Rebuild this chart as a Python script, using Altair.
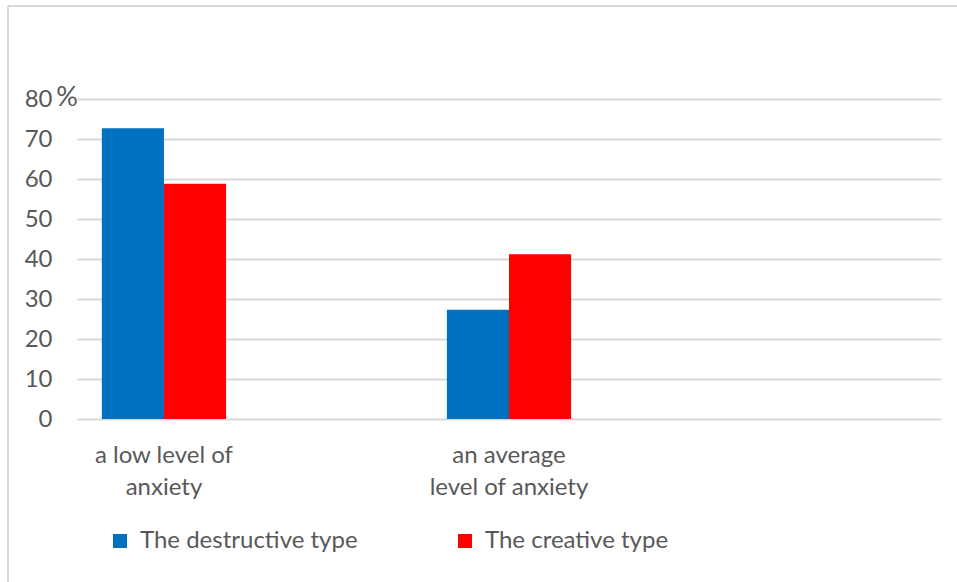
import altair as alt
import pandas as pd

categories = ["a low level of|anxiety", "an average|level of anxiety"]
slots = categories + [" "]
series = ["The destructive type", "The creative type"]
destructive = [72.7, 27.3]
creative = [58.8, 41.2]
colors = ["#0070C0", "#FF0000"]
y_ticks = [0, 10, 20, 30, 40, 50, 60, 70, 80]

rows = []
for i, c in enumerate(categories):
    rows.append({"category": c, "series": series[0], "value": destructive[i]})
    rows.append({"category": c, "series": series[1], "value": creative[i]})
df = pd.DataFrame(rows)

FONT = "Lato"
TXT = "#595959"
GRID = "#d9d9d9"
FS = 24

yscale = alt.Scale(domain=[0, 80], nice=False)
yaxis = alt.Axis(title=None, values=y_ticks, ticks=False, domain=False,
                 grid=True, gridColor=GRID, gridWidth=2, labelOverlap=False,
                 labelFont=FONT, labelFontSize=FS, labelColor=TXT, labelPadding=25)

bars = alt.Chart(df).mark_bar().encode(
    x=alt.X("category:N", sort=slots,
            scale=alt.Scale(domain=slots, paddingInner=0.64, paddingOuter=0.072),
            axis=alt.Axis(title=None, ticks=False, domain=False, grid=False,
                          labelExpr="split(datum.label, '|')", labelAngle=0,
                          labelFont=FONT, labelFontSize=FS, labelColor=TXT,
                          labelPadding=24, labelLineHeight=32, labelBaseline="top",
                          labelLimit=400)),
    xOffset=alt.XOffset("series:N", sort=series, scale=alt.Scale(domain=series, paddingInner=0, paddingOuter=0)),
    y=alt.Y("value:Q", scale=yscale, axis=yaxis),
    color=alt.Color("series:N", sort=series,
                    scale=alt.Scale(domain=series, range=colors),
                    legend=alt.Legend(title=None, orient="none", direction="horizontal",
                                      legendX=31, legendY=430, symbolType="square",
                                      symbolSize=196, symbolStrokeWidth=0,
                                      labelFont=FONT, labelFontSize=FS, labelColor=TXT,
                                      labelLimit=400,
                                      columnPadding=95, padding=0, labelOffset=8)),
)

pct = alt.Chart(pd.DataFrame({"value": [80], "t": ["%"]})).mark_text(
    font=FONT, fontSize=27, color=TXT, align="center", baseline="middle", dy=-1
).encode(x=alt.value(-10), y=alt.Y("value:Q", scale=yscale, axis=yaxis), text="t:N")

border_left = alt.Chart(pd.DataFrame({"a": [0]})).mark_rule(color=GRID, strokeWidth=2).encode(
    x=alt.value(-69), y=alt.value(-93), y2=alt.value(483))
border_top = alt.Chart(pd.DataFrame({"a": [0]})).mark_rule(color=GRID, strokeWidth=2).encode(
    y=alt.value(-93), x=alt.value(-69), x2=alt.value(880))

chart = alt.layer(border_left, border_top, bars, pct).properties(
    width=864, height=320,
    autosize=alt.AutoSizeParams(type="none"),
    padding={"left": 77, "top": 99, "right": 16, "bottom": 163},
    background="white",
).configure_view(stroke=None)

chart.save("out.html", embed_options={"renderer": "svg", "actions": False})
